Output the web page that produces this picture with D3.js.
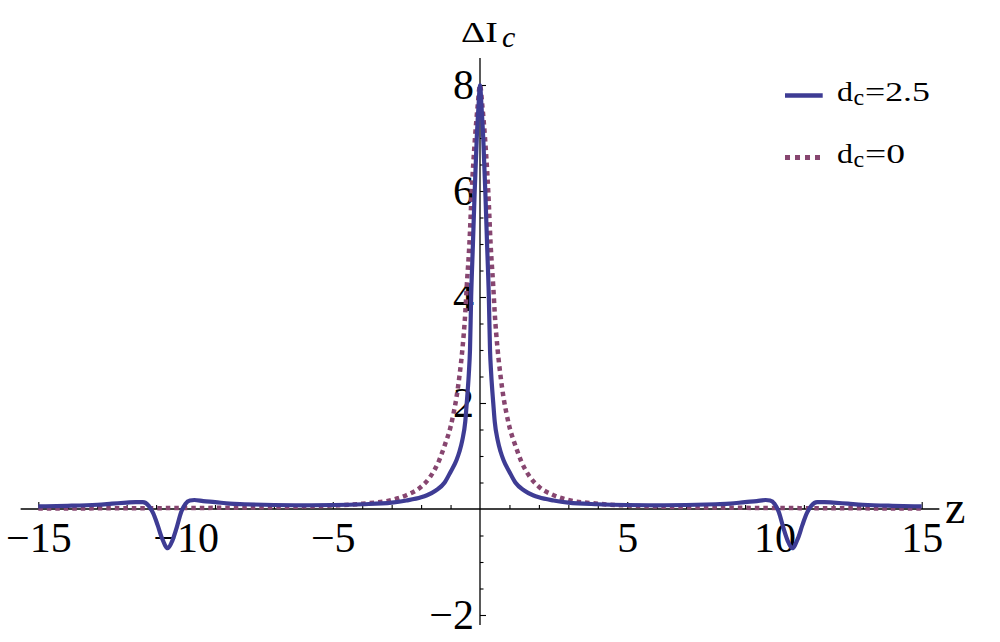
<!DOCTYPE html>
<html>
<head>
<meta charset="utf-8">
<script src="https://cdn.jsdelivr.net/npm/d3@7"></script>
<style>
  body { margin: 0; background: #fff; }
  svg { display: block; }
  text { font-family: "Liberation Serif", "Times New Roman", serif; fill: #000; }
</style>
</head>
<body>
<div id="chart"></div>
<script>
// ΔI_c theo z, hai đường: d_c = 2.5 (liền) và d_c = 0 (chấm)
const zSolid = [-15, -14, -13, -12.5, -12, -11.7, -11.45, -11.25, -11.1, -10.95, -10.8, -10.6, -10.45, -10.3, -10.15,
  -10.0, -9.85, -9.7, -9.4, -9.0, -8.5, -8, -7, -6, -5, -4, -3, -2.5, -2, -1.8, -1.5, -1.2, -1.0, -0.8, -0.7, -0.6,
  -0.5, -0.45, -0.38, -0.34, -0.3, -0.24, -0.18, -0.11, -0.05, 0,
  0.05, 0.11, 0.18, 0.24, 0.3, 0.34, 0.38, 0.45, 0.5, 0.6, 0.7, 0.8, 1.0, 1.2, 1.5, 1.8, 2, 2.5, 3, 4, 5, 6, 7, 8,
  8.5, 9.0, 9.4, 9.7, 9.85, 10.0, 10.15, 10.3, 10.45, 10.6, 10.8, 10.95, 11.1, 11.25, 11.45, 11.7, 12, 12.5, 13, 14, 15];
const iSolid = [0.05, 0.06, 0.08, 0.10, 0.12, 0.13, 0.13, 0.06, -0.08, -0.30, -0.55, -0.74, -0.60, -0.35, -0.06,
  0.10, 0.16, 0.17, 0.15, 0.13, 0.10, 0.09, 0.075, 0.07, 0.075, 0.09, 0.12, 0.16, 0.22, 0.26, 0.35, 0.50, 0.70, 0.92, 1.08, 1.30,
  1.65, 2.0, 2.55, 3.0, 4.0, 5.0, 6.0, 7.0, 7.6, 8.0,
  7.6, 7.0, 6.0, 5.0, 4.0, 3.0, 2.55, 2.0, 1.65, 1.30, 1.08, 0.92, 0.70, 0.50, 0.35, 0.26, 0.22, 0.16, 0.12, 0.09, 0.075, 0.07, 0.075, 0.09,
  0.10, 0.13, 0.15, 0.17, 0.16, 0.10, -0.06, -0.35, -0.60, -0.74, -0.55, -0.30, -0.08, 0.06, 0.13, 0.13, 0.12, 0.10, 0.08, 0.06, 0.05];

const zDotted = [-15, -13, -11, -9, -7, -6, -5, -4, -3, -2.5, -2, -1.7, -1.4, -1.2, -1.0, -0.9, -0.8, -0.7, -0.6,
  -0.5, -0.45, -0.36, -0.28, -0.17, -0.08, 0,
  0.08, 0.17, 0.28, 0.36, 0.45, 0.5, 0.6, 0.7, 0.8, 0.9, 1.0, 1.2, 1.4, 1.7, 2, 2.5, 3, 4, 5, 6, 7, 9, 11, 13, 15];
const iDotted = [0.01, 0.012, 0.016, 0.022, 0.035, 0.045, 0.065, 0.10, 0.17, 0.26, 0.42, 0.60, 0.90, 1.20, 1.55, 1.80, 2.10, 2.50, 3.00,
  3.70, 4.20, 5.00, 6.00, 7.00, 7.60, 8.0,
  7.60, 7.00, 6.00, 5.00, 4.20, 3.70, 3.00, 2.50, 2.10, 1.80, 1.55, 1.20, 0.90, 0.60, 0.42, 0.26, 0.17, 0.10, 0.065, 0.045, 0.035, 0.022, 0.016, 0.012, 0.01];

const xMajor = [-15, -10, -5, 5, 10, 15];
const xMinor = d3.range(-15, 16, 1).filter(d => d % 5 !== 0);
const yMajor = [-2, 2, 4, 6, 8];
const yMinor = d3.range(-2, 8.5, 0.5).filter(d => d % 2 !== 0);

const legendNames = ["d", "d"];
const legendSubs = ["c", "c"];
const legendValues = ["=2.5", "=0"];
const colSolid = "#3e3c94";
const colDotted = "#874670";

const W = 1000, H = 642;
const svg = d3.select("#chart").append("svg").attr("width", W).attr("height", H);

const x = d3.scaleLinear().domain([-15, 15]).range([38.3, 921.7]);
const y = d3.scaleLinear().domain([-2, 8]).range([615, 85]);
const fmt = d => d < 0 ? "\u2212" + Math.abs(d) : String(d);
const serif = "'Liberation Serif', 'Times New Roman', serif";

// trục x (vạch hướng lên)
const gx = svg.append("g").attr("transform", `translate(0,${y(0)})`);
gx.call(d3.axisBottom(x).tickValues(xMinor).tickSize(-4).tickFormat(""));
gx.select(".domain").remove();
const gx2 = svg.append("g").attr("transform", `translate(0,${y(0)})`);
gx2.call(d3.axisBottom(x).tickValues(xMajor).tickSize(-7).tickFormat(fmt));
gx2.select(".domain").remove();
gx2.selectAll("text").attr("y", 43).attr("dy", 0).style("font-size", "42px").style("font-family", serif);
svg.append("line").attr("x1", x(-15.6)).attr("x2", x(15.6)).attr("y1", y(0)).attr("y2", y(0))
  .attr("stroke", "#000").attr("stroke-width", 1.3);

// trục y (vạch hướng phải)
const gy = svg.append("g").attr("transform", `translate(${x(0)},0)`);
gy.call(d3.axisLeft(y).tickValues(yMinor).tickSize(-3.5).tickFormat(""));
gy.select(".domain").remove();
const gy2 = svg.append("g").attr("transform", `translate(${x(0)},0)`);
gy2.call(d3.axisLeft(y).tickValues(yMajor).tickSize(-6).tickFormat(fmt));
gy2.select(".domain").remove();
gy2.selectAll("text").attr("x", -6).attr("dy", "0.33em").style("font-size", "42px").style("font-family", serif);
svg.append("line").attr("x1", x(0)).attr("x2", x(0)).attr("y1", y(8.51)).attr("y2", y(-2.19))
  .attr("stroke", "#000").attr("stroke-width", 1.3);
svg.selectAll(".tick line").attr("stroke-width", 1.1);

// nhãn trục
svg.append("text").attr("x", 461).attr("y", 42).style("font-size", "30px")
  .attr("textLength", 37).attr("lengthAdjust", "spacingAndGlyphs").text("\u0394I");
svg.append("text").attr("x", 502).attr("y", 47).style("font-size", "30px").style("font-style", "italic").text("c");
svg.append("text").attr("x", 945).attr("y", 523).style("font-size", "46px").text("z");

// đường cong
const line = d3.line().x(d => x(d[0])).y(d => y(d[1])).curve(d3.curveMonotoneX);
svg.append("path").datum(d3.zip(zDotted, iDotted))
  .attr("fill", "none").attr("stroke", colDotted).attr("stroke-width", 4.5)
  .attr("stroke-dasharray", "4.5,4").attr("d", line);
svg.append("path").datum(d3.zip(zSolid, iSolid))
  .attr("fill", "none").attr("stroke", colSolid).attr("stroke-width", 4.2)
  .attr("stroke-linejoin", "round").attr("d", line);

// chú giải
const legendY = [95.5, 157.5];
const legendDash = [null, "5,5"];
const legendCol = [colSolid, colDotted];
const valueWidth = [65, 40];
legendNames.forEach((n, i) => {
  svg.append("line").attr("x1", 785).attr("x2", i ? 820 : 822.7)
    .attr("y1", legendY[i]).attr("y2", legendY[i])
    .attr("stroke", legendCol[i]).attr("stroke-width", i ? 5 : 4.3)
    .attr("stroke-dasharray", legendDash[i]);
  const base = legendY[i] + 5.5;
  svg.append("text").attr("x", 837).attr("y", base).style("font-size", "28px")
    .attr("textLength", 16).attr("lengthAdjust", "spacingAndGlyphs").text(n);
  svg.append("text").attr("x", 853.5).attr("y", base + 4).style("font-size", "24px").text(legendSubs[i]);
  svg.append("text").attr("x", 865).attr("y", base).style("font-size", "28px")
    .attr("textLength", valueWidth[i]).attr("lengthAdjust", "spacingAndGlyphs").text(legendValues[i]);
});
</script>
</body>
</html>
